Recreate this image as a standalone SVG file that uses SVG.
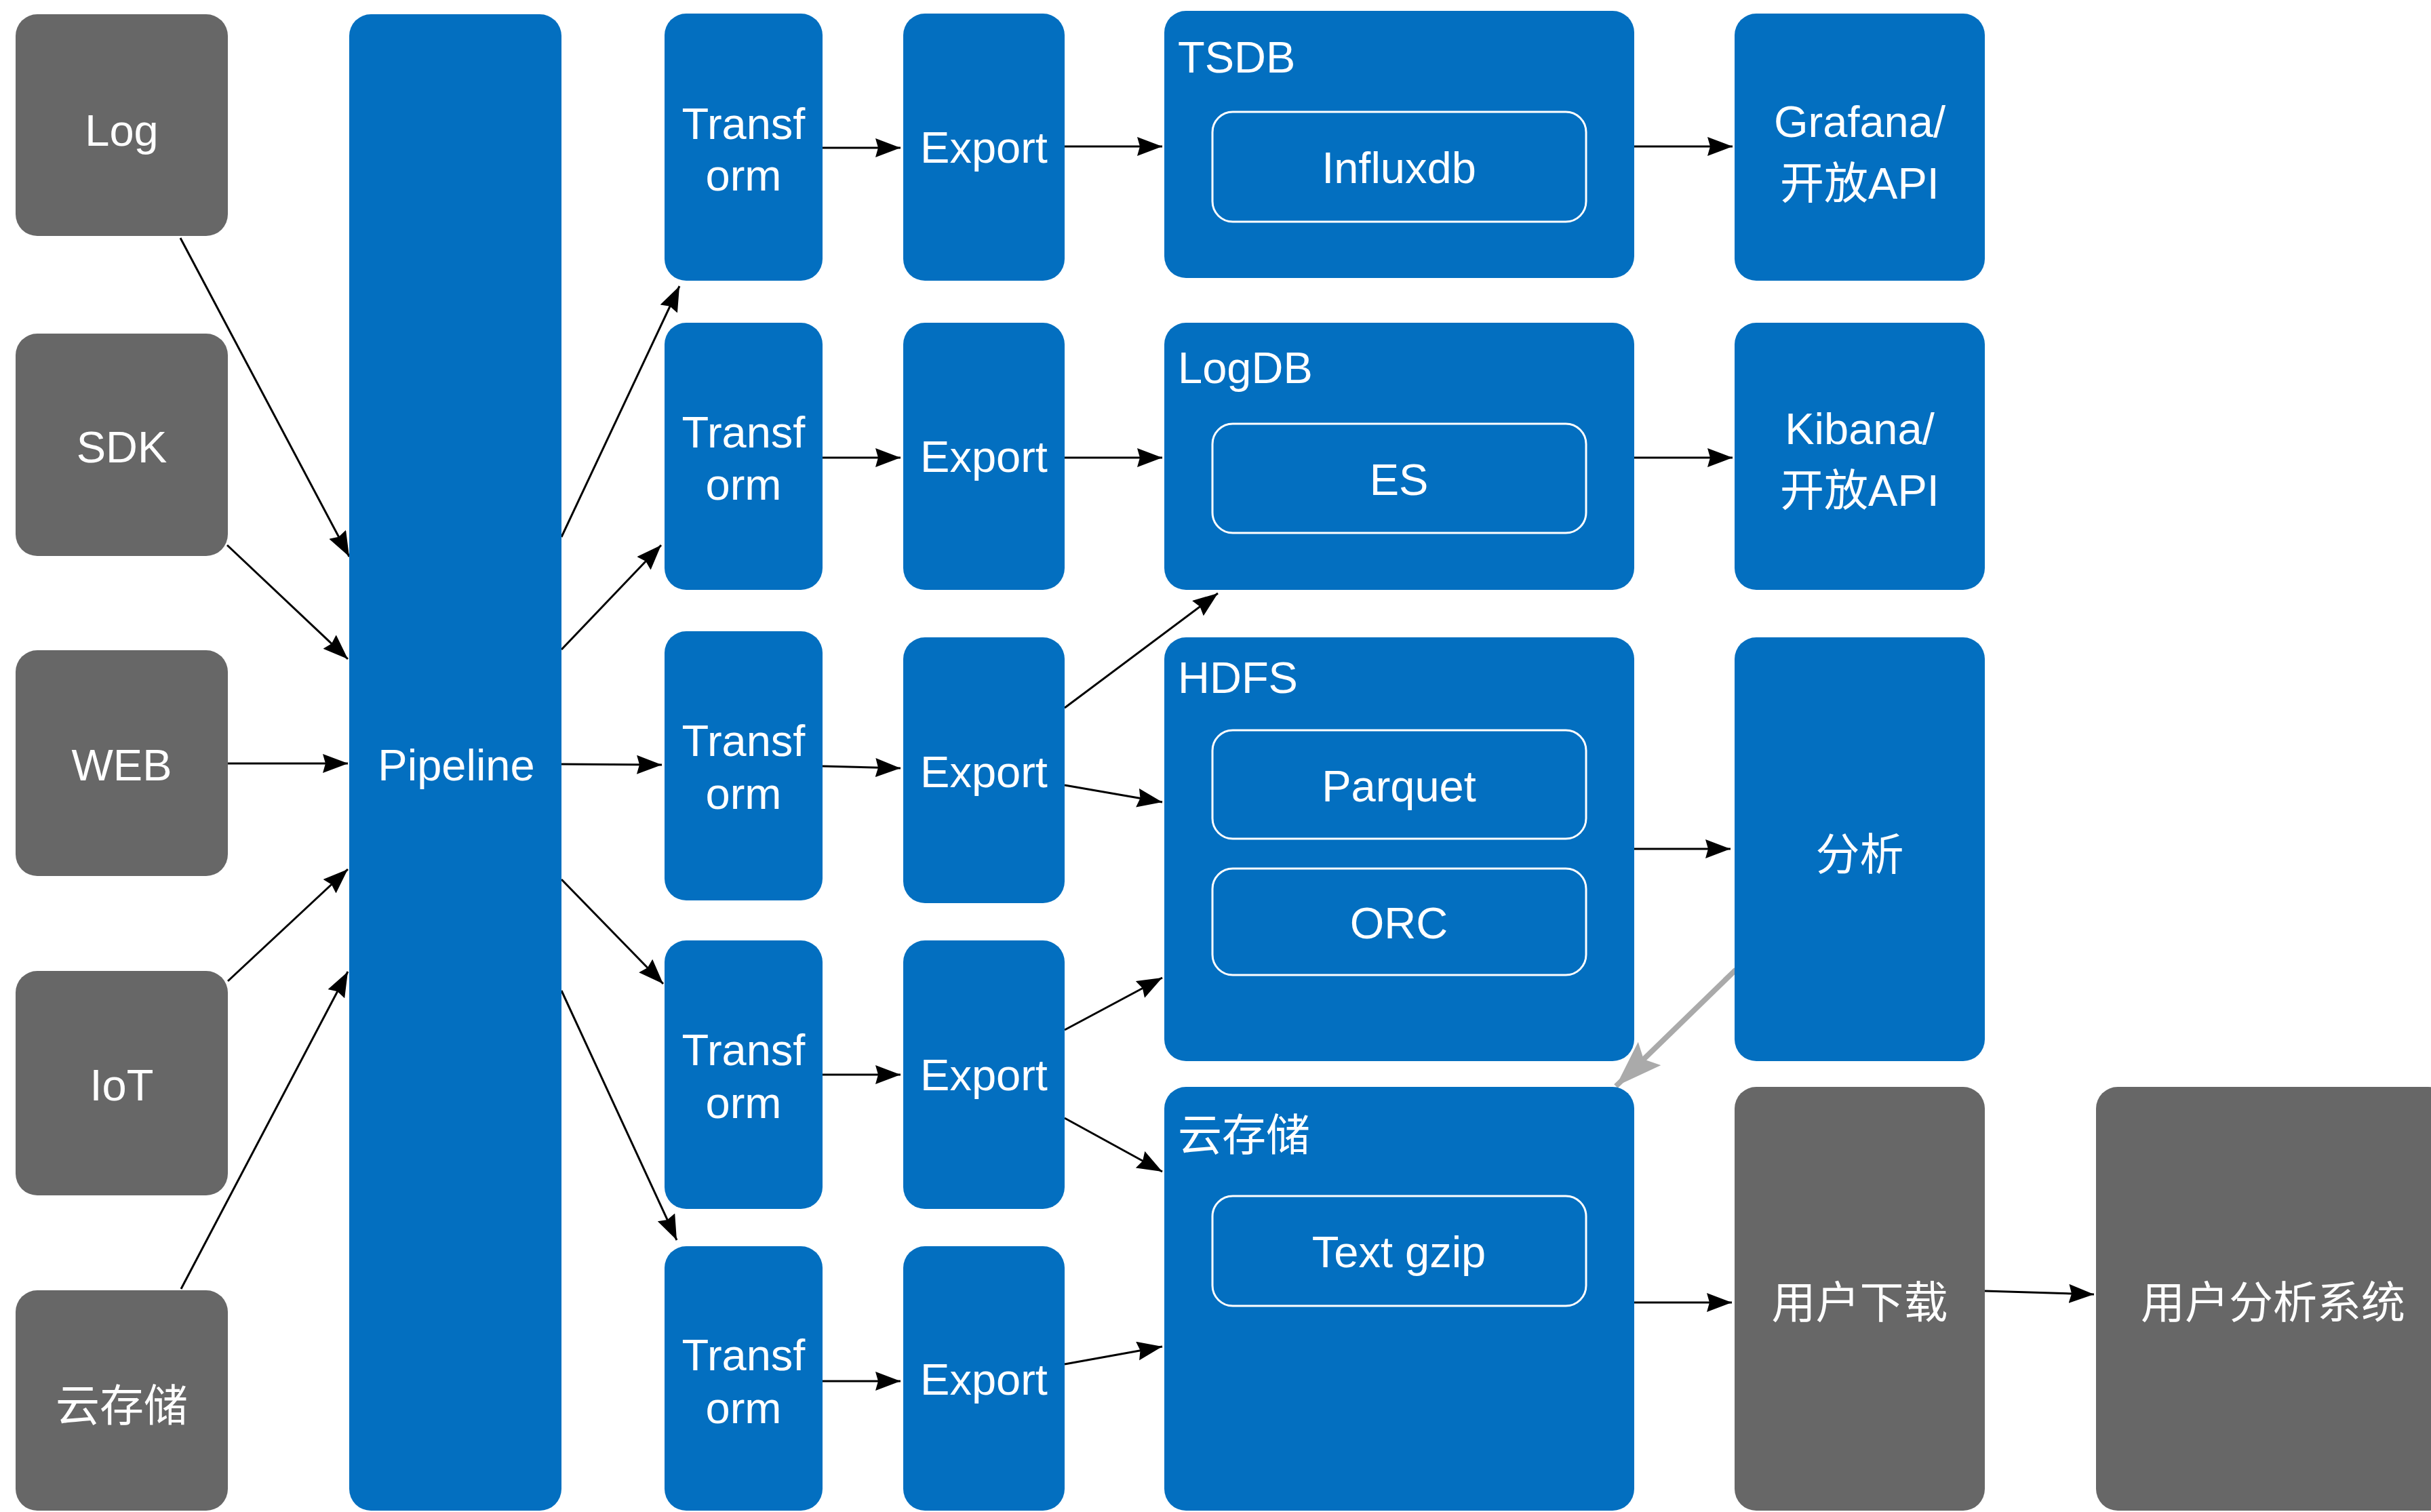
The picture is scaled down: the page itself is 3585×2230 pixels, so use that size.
<svg xmlns="http://www.w3.org/2000/svg" width="3585" height="2230" viewBox="0 0 3585 2230">
<style>
.blue{fill:#036FC0}
.gray{fill:#676767}
.inner{fill:none;stroke:#FFFFFF;stroke-width:3}
text{font-family:"Liberation Sans",Arial,"Noto Sans CJK SC",sans-serif;font-size:65px;fill:#FFFFFF}
.c{text-anchor:middle}
.conn{fill:none;stroke:#000000;stroke-width:3;marker-end:url(#ah)}
.gconn{fill:none;stroke:#AAAAAA;stroke-width:8;marker-end:url(#gah)}
</style>
<defs>
<marker id="ah" markerUnits="userSpaceOnUse" markerWidth="40" markerHeight="30" refX="37" refY="14" orient="auto">
<path d="M0,0 L37,14 L0,28 L4,14 z" fill="#000000"/>
</marker>
<marker id="gah" markerUnits="userSpaceOnUse" markerWidth="72" markerHeight="50" refX="69" refY="24" orient="auto">
<path d="M0,0 L69,24 L0,48 L12,24 z" fill="#AAAAAA"/>
</marker>
</defs>
<rect width="3585" height="2230" fill="#FFFFFF"/>

<g id="connectors">
<path class="conn" d="M266,351 L515,821"/>
<path class="conn" d="M335,804 L513,972"/>
<path class="conn" d="M336,1126 L513,1126"/>
<path class="conn" d="M336,1447 L513,1282"/>
<path class="conn" d="M267,1901 L513,1433"/>
<path class="conn" d="M828,792 L1002,422"/>
<path class="conn" d="M828,958 L975,804"/>
<path class="conn" d="M828,1127 L976,1128"/>
<path class="conn" d="M828,1297 L978,1451"/>
<path class="conn" d="M828,1461 L998,1829"/>
<path class="conn" d="M1213,218 L1328,218"/>
<path class="conn" d="M1570,216 L1714,216"/>
<path class="conn" d="M1213,675 L1328,675"/>
<path class="conn" d="M1570,675 L1714,675"/>
<path class="conn" d="M1213,1130 L1328,1133"/>
<path class="conn" d="M1570,1044 L1796,875"/>
<path class="conn" d="M1570,1158 L1714,1183"/>
<path class="conn" d="M1213,1585 L1328,1585"/>
<path class="conn" d="M1570,1519 L1714,1442"/>
<path class="conn" d="M1570,1649 L1714,1728"/>
<path class="conn" d="M1213,2037 L1328,2037"/>
<path class="conn" d="M1570,2012 L1714,1986"/>
<path class="conn" d="M2410,216 L2555,216"/>
<path class="conn" d="M2410,675 L2555,675"/>
<path class="conn" d="M2410,1252 L2552,1252"/>
<path class="conn" d="M2410,1921 L2554,1921"/>
<path class="conn" d="M2927,1904 L3088,1909"/>
<path class="gconn" d="M2560,1430 L2383,1602"/>
</g>

<g id="log"><rect class="gray" x="23" y="21" width="313" height="327" rx="32"/><text class="c" x="179.5" y="215">Log</text></g>
<g id="sdk"><rect class="gray" x="23" y="492" width="313" height="328" rx="32"/><text class="c" x="179.5" y="682">SDK</text></g>
<g id="web"><rect class="gray" x="23" y="959" width="313" height="333" rx="32"/><text class="c" x="179.5" y="1151">WEB</text></g>
<g id="iot"><rect class="gray" x="23" y="1432" width="313" height="331" rx="32"/><text class="c" x="179.5" y="1623">IoT</text></g>
<g id="cloud-src"><rect class="gray" x="23" y="1903" width="313" height="325" rx="32"/><text class="c" x="179.5" y="2096">云存储</text></g>

<g id="pipeline"><rect class="blue" x="515" y="21" width="313" height="2207" rx="32"/><text class="c" x="673" y="1151">Pipeline</text></g>

<g id="transform1"><rect class="blue" x="980" y="20" width="233" height="394" rx="32"/><text class="c" x="1096.5" y="205">Transf</text><text class="c" x="1096.5" y="281">orm</text></g>
<g id="transform2"><rect class="blue" x="980" y="476" width="233" height="394" rx="32"/><text class="c" x="1096.5" y="660">Transf</text><text class="c" x="1096.5" y="737">orm</text></g>
<g id="transform3"><rect class="blue" x="980" y="931" width="233" height="397" rx="32"/><text class="c" x="1096.5" y="1115">Transf</text><text class="c" x="1096.5" y="1193">orm</text></g>
<g id="transform4"><rect class="blue" x="980" y="1387" width="233" height="396" rx="32"/><text class="c" x="1096.5" y="1571">Transf</text><text class="c" x="1096.5" y="1649">orm</text></g>
<g id="transform5"><rect class="blue" x="980" y="1838" width="233" height="390" rx="32"/><text class="c" x="1096.5" y="2021">Transf</text><text class="c" x="1096.5" y="2099">orm</text></g>

<g id="export1"><rect class="blue" x="1332" y="20" width="238" height="394" rx="32"/><text class="c" x="1451" y="240">Export</text></g>
<g id="export2"><rect class="blue" x="1332" y="476" width="238" height="394" rx="32"/><text class="c" x="1451" y="696">Export</text></g>
<g id="export3"><rect class="blue" x="1332" y="940" width="238" height="392" rx="32"/><text class="c" x="1451" y="1161">Export</text></g>
<g id="export4"><rect class="blue" x="1332" y="1387" width="238" height="396" rx="32"/><text class="c" x="1451" y="1608">Export</text></g>
<g id="export5"><rect class="blue" x="1332" y="1838" width="238" height="390" rx="32"/><text class="c" x="1451" y="2057">Export</text></g>

<g id="tsdb"><rect class="blue" x="1717" y="16" width="693" height="394" rx="32"/><text x="1737" y="107">TSDB</text>
<rect class="inner" x="1788" y="165" width="551" height="162" rx="30"/><text class="c" x="2063" y="270">Influxdb</text></g>
<g id="logdb"><rect class="blue" x="1717" y="476" width="693" height="394" rx="32"/><text x="1737" y="565">LogDB</text>
<rect class="inner" x="1788" y="625" width="551" height="161" rx="30"/><text class="c" x="2063" y="730">ES</text></g>
<g id="hdfs"><rect class="blue" x="1717" y="940" width="693" height="625" rx="32"/><text x="1737" y="1022">HDFS</text>
<rect class="inner" x="1788" y="1077" width="551" height="160" rx="30"/><text class="c" x="2063" y="1182">Parquet</text>
<rect class="inner" x="1788" y="1281" width="551" height="157" rx="30"/><text class="c" x="2063" y="1384">ORC</text></g>
<g id="cloud-store"><rect class="blue" x="1717" y="1603" width="693" height="625" rx="32"/><text x="1737" y="1697">云存储</text>
<rect class="inner" x="1788" y="1764" width="551" height="162" rx="30"/><text class="c" x="2063" y="1869">Text gzip</text></g>

<g id="grafana"><rect class="blue" x="2558" y="20" width="369" height="394" rx="32"/><text class="c" x="2742.5" y="202">Grafana/</text><text class="c" x="2742.5" y="293">开放API</text></g>
<g id="kibana"><rect class="blue" x="2558" y="476" width="369" height="394" rx="32"/><text class="c" x="2742.5" y="655">Kibana/</text><text class="c" x="2742.5" y="746">开放API</text></g>
<g id="analysis"><rect class="blue" x="2558" y="940" width="369" height="625" rx="32"/><text class="c" x="2742.5" y="1283">分析</text></g>
<g id="user-download"><rect class="gray" x="2558" y="1603" width="369" height="625" rx="32"/><text class="c" x="2742.5" y="1944">用户下载</text></g>
<g id="user-analysis"><rect class="gray" x="3091" y="1603" width="522" height="625" rx="32"/><text class="c" x="3352" y="1944">用户分析系统</text></g>
</svg>
